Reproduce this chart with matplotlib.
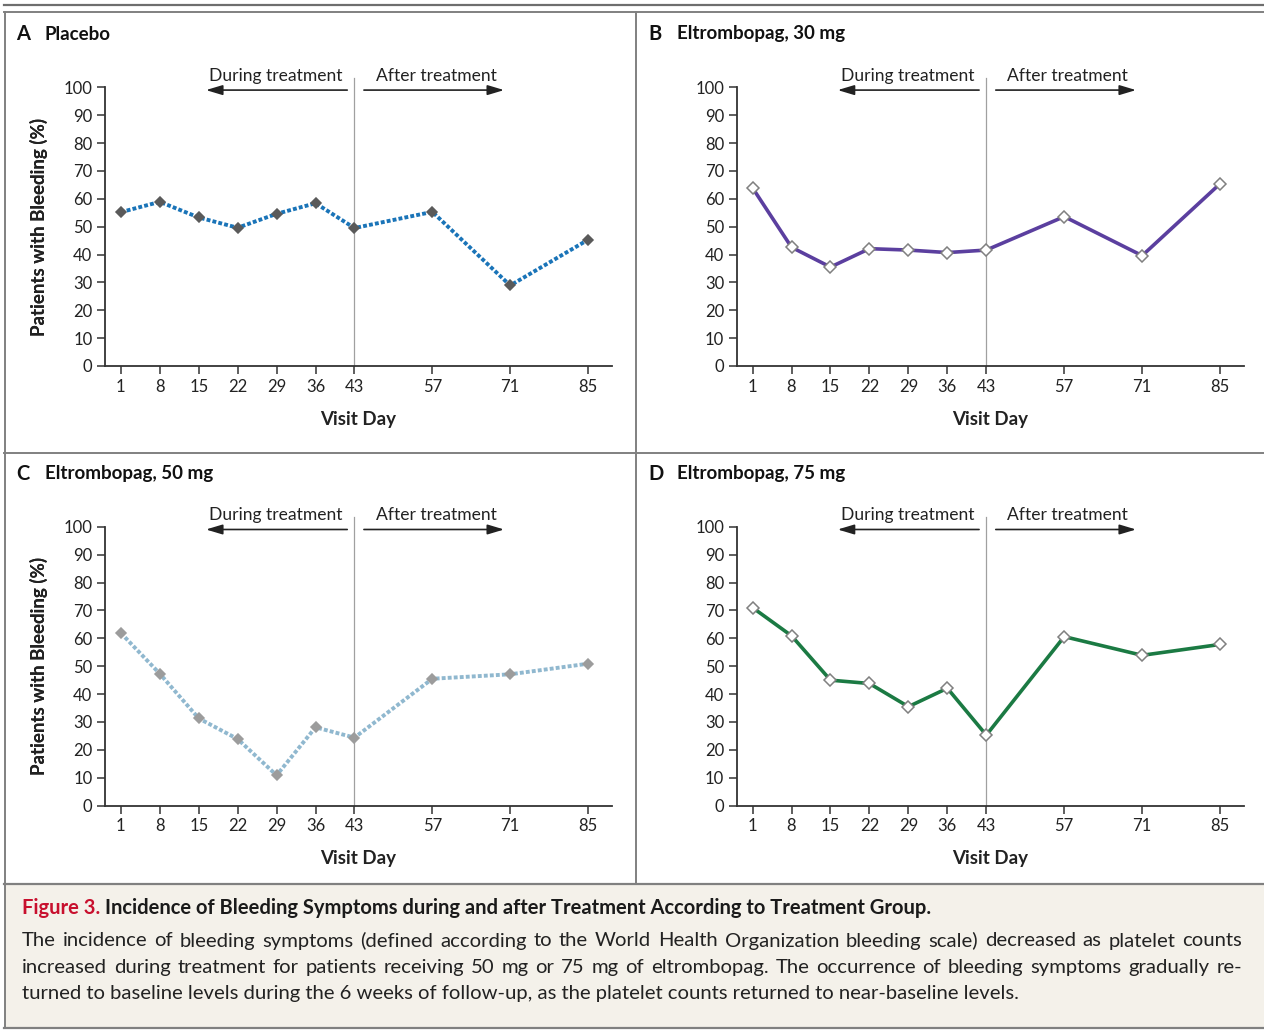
import matplotlib
matplotlib.use("Agg")
import matplotlib.pyplot as plt
from matplotlib.lines import Line2D
from matplotlib.patches import Rectangle

plt.rcParams['font.family'] = ['Lato', 'DejaVu Sans']

# ---------------- data ----------------
days = [1, 8, 15, 22, 29, 36, 43, 57, 71, 85]
placebo = [55.2, 58.9, 53.3, 49.6, 54.6, 58.4, 49.5, 55.3, 28.9, 45.3]
eltro30 = [63.9, 42.6, 35.5, 42.1, 41.6, 40.7, 41.6, 53.6, 39.6, 65.4]
eltro50 = [61.9, 47.3, 31.3, 23.9, 10.9, 28.1, 24.4, 45.5, 47.1, 50.9]
eltro75 = [71.0, 60.9, 45.0, 43.8, 35.5, 42.1, 25.3, 60.6, 53.9, 57.8]
yticks = [0, 10, 20, 30, 40, 50, 60, 70, 80, 90, 100]
panel_letters = ["A", "B", "C", "D"]
panel_titles = ["Placebo", "Eltrombopag, 30 mg", "Eltrombopag, 50 mg", "Eltrombopag, 75 mg"]

W, H = 1264, 1030
fig = plt.figure(figsize=(W / 100, H / 100), dpi=100)


def fx(x):
    return x / W


def fy(y):
    return 1 - y / H


frame_col = '#808080'

# top double rule and panel frames
fig.add_artist(Line2D([fx(4), fx(W)], [fy(5), fy(5)], color='#6e6e6e', lw=1.6))
fig.add_artist(Line2D([fx(4), fx(W)], [fy(12), fy(12)], color=frame_col, lw=1.4))
fig.add_artist(Line2D([fx(4.5), fx(4.5)], [fy(12), fy(1028)], color=frame_col, lw=1.4))
fig.add_artist(Line2D([fx(636), fx(636)], [fy(12), fy(884)], color=frame_col, lw=1.4))
fig.add_artist(Line2D([fx(4), fx(W)], [fy(452.5), fy(452.5)], color=frame_col, lw=1.4))
# caption box
fig.add_artist(Rectangle((fx(4.5), fy(1028)), fx(W) - fx(4.5), fy(884) - fy(1028),
                         facecolor='#f4f1ea', edgecolor='none'))
fig.add_artist(Line2D([fx(4), fx(W)], [fy(884), fy(884)], color=frame_col, lw=1.6))
fig.add_artist(Line2D([fx(4), fx(W)], [fy(1028), fy(1028)], color=frame_col, lw=1.6))

# axes geometry in pixels: (left, right, top(100), bottom(0))
geoms = [(105, 612, 87.3, 366.0), (736.7, 1244, 87.3, 366.0),
         (105, 612, 526.7, 805.7), (736.7, 1244, 526.7, 805.7)]
title_pos = [(16, 34), (648, 34), (16, 474), (648, 474)]
series = [placebo, eltro30, eltro50, eltro75]
styles = [
    dict(color='#1a74b8', lw=2.8, ls=(0, (1.0, 0.55)), mfc='#5a5a5a', mec='#5a5a5a', ms=5.5),
    dict(color='#5b3f9f', lw=2.6, ls='-', mfc='white', mec='#808080', ms=6),
    dict(color='#90b8cf', lw=2.8, ls=(0, (1.0, 0.55)), mfc='#9c9c9c', mec='#9c9c9c', ms=5.5),
    dict(color='#1b7a43', lw=2.6, ls='-', mfc='white', mec='#808080', ms=6),
]

xmin, xmax = -1.85, 89.3
axis_col = '#333333'

for i in range(4):
    l, r, t, b = geoms[i]
    ax = fig.add_axes([fx(l), fy(b), fx(r) - fx(l), fy(t) - fy(b)])
    ax.set_xlim(xmin, xmax)
    ax.set_ylim(0, 100)
    for s in ['top', 'right']:
        ax.spines[s].set_visible(False)
    for s in ['left', 'bottom']:
        ax.spines[s].set_color(axis_col)
        ax.spines[s].set_linewidth(1.3)
    ax.set_xticks(days)
    ax.set_xticklabels([str(d) for d in days])
    ax.set_yticks(yticks)
    ax.set_yticklabels([str(v) for v in yticks])
    ax.tick_params(axis='both', direction='out', length=6, width=1.1, color=axis_col,
                   labelsize=12, labelcolor='#222222', pad=3)
    ax.set_ylabel('Patients with Bleeding (%)', fontsize=13.5, fontweight='bold', color='#222222')
    ax.yaxis.set_label_coords(-(l - 38.8) / (r - l), 0.5)
    ax.set_xlabel('Visit Day', fontsize=13.5, fontweight='bold', color='#222222')
    ax.xaxis.set_label_coords(0.5, -53.0 / (b - t))
    ax.xaxis.label.set_va('center')
    ax.yaxis.label.set_va('center')

    # vertical divider at day 43
    ax.plot([43, 43], [0, 103.5], color='#a0a0a0', lw=0.9, clip_on=False, zorder=1)

    st = styles[i]
    ax.plot(days, series[i], color=st['color'], lw=st['lw'], linestyle=st['ls'],
            marker='D', markersize=st['ms'], markerfacecolor=st['mfc'], markeredgecolor=st['mec'],
            markeredgewidth=1.1, clip_on=False, zorder=3, dash_capstyle='butt')

    # annotations
    ax.text(40.9, 102.3, 'During treatment', ha='right', va='baseline', fontsize=12.6,
            color='#222222', clip_on=False)
    ax.text(46.8, 102.3, 'After treatment', ha='left', va='baseline', fontsize=12.6,
            color='#222222', clip_on=False)
    ap = dict(arrowstyle='-|>,head_length=1.0,head_width=0.3', lw=1.2, color='#222222',
              shrinkA=0, shrinkB=0, mutation_scale=10)
    ax.annotate('', xy=(16.3, 99.0), xytext=(41.7, 99.0), arrowprops=ap, annotation_clip=False)
    ax.annotate('', xy=(69.9, 99.0), xytext=(44.7, 99.0), arrowprops=ap, annotation_clip=False)

    tx, ty = title_pos[i]
    fig.text(fx(tx), fy(ty), panel_letters[i], fontsize=14.5, fontweight='bold',
             color='#111111', va='center', ha='left')
    fig.text(fx(tx + 29), fy(ty), panel_titles[i], fontsize=13.5, fontweight='bold',
             color='#111111', va='center', ha='left')

# caption
fig.canvas.draw()
renderer = fig.canvas.get_renderer()
cap_title_fs = 14.5
t1 = fig.text(fx(22), fy(914.5), 'Figure 3.', fontsize=cap_title_fs, fontweight='bold', color='#c8102e',
              va='baseline', ha='left')
bb = t1.get_window_extent(renderer)
fig.text(fx(22) + (bb.width + 5) / W, fy(914.5),
         'Incidence of Bleeding Symptoms during and after Treatment According to Treatment Group.',
         fontsize=cap_title_fs, fontweight='bold', color='#1a1a1a', va='baseline', ha='left')

caption_lines = [
    'The incidence of bleeding symptoms (defined according to the World Health Organization bleeding scale) decreased as platelet counts',
    'increased during treatment for patients receiving 50 mg or 75 mg of eltrombopag. The occurrence of bleeding symptoms gradually re-',
    'turned to baseline levels during the 6 weeks of follow-up, as the platelet counts returned to near-baseline levels.',
]
line_base = [946.5, 973, 999.5]
justify = [True, True, False]
cap_fs = 14.6
cap_left, cap_right = 22, 1242
for txt, yy, jus in zip(caption_lines, line_base, justify):
    if not jus:
        fig.text(fx(cap_left), fy(yy), txt, fontsize=cap_fs, color='#222222', va='baseline', ha='left')
        continue
    words = txt.split(' ')
    arts = [fig.text(0, fy(yy), w, fontsize=cap_fs, color='#222222', va='baseline', ha='left')
            for w in words]
    widths = [a.get_window_extent(renderer).width for a in arts]
    gap = (cap_right - cap_left - sum(widths)) / (len(words) - 1)
    x = cap_left
    for a, wd in zip(arts, widths):
        a.set_x(fx(x))
        x += wd + gap

fig.savefig('out.png', dpi=100)
